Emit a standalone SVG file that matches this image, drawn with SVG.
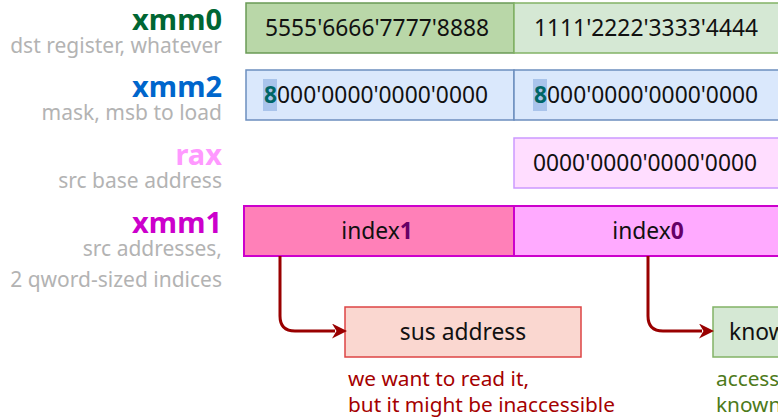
<svg xmlns="http://www.w3.org/2000/svg" width="778" height="419" viewBox="0 0 778 419">
<style>
.lbl{font-family:"Noto Sans","Open Sans",sans-serif;font-weight:bold;font-size:29px;text-anchor:end}
.sub{font-family:"Noto Sans","Open Sans",sans-serif;font-size:21px;fill:#b3b3b3;text-anchor:end}
.val{font-family:"Noto Sans","Open Sans",sans-serif;font-size:22.8px;fill:#111}
.mid{text-anchor:middle}
.note{font-family:"Noto Sans","Open Sans",sans-serif;font-size:20.8px}
.hl{fill:#a9c4eb}
.b8{font-weight:bold;fill:#006666}
.conn{fill:none;stroke:#990000;stroke-width:3}
</style>
<defs>
<marker id="ah" viewBox="0 0 10 10" refX="2" refY="5" markerWidth="6" markerHeight="5" markerUnits="strokeWidth" orient="auto">
<path d="M0,0 L10,5 L0,10 L3,5 Z" fill="#990000"/>
</marker>
</defs>

<g id="label-xmm0">
<text class="lbl" x="222" y="30" fill="#006633">xmm0</text>
<text class="sub" x="222" y="53">dst register, whatever</text>
</g>
<g id="label-xmm2">
<text class="lbl" x="222" y="97" fill="#0066cc">xmm2</text>
<text class="sub" x="222" y="120">mask, msb to load</text>
</g>
<g id="label-rax">
<text class="lbl" x="222" y="165" fill="#ff99ff">rax</text>
<text class="sub" x="222" y="188">src base address</text>
</g>
<g id="label-xmm1">
<text class="lbl" x="222" y="233" fill="#cc00cc">xmm1</text>
<text class="sub" x="222" y="256">src addresses,</text>
<text class="sub" x="222" y="287">2 qword-sized indices</text>
</g>

<g id="xmm0-hi">
<rect x="246" y="3" width="268" height="50" fill="#b9d7a8" stroke="#6a9a55" stroke-width="1.5"/>
<text class="val" x="265" y="36">5555'6666'7777'8888</text>
</g>
<g id="xmm0-lo">
<rect x="514" y="3" width="280" height="50" fill="#d5e8d4" stroke="#82b366" stroke-width="1.5"/>
<text class="val" x="534" y="36">1111'2222'3333'4444</text>
</g>

<g id="xmm2-hi">
<rect x="246" y="70" width="268" height="50" fill="#dae8fc" stroke="#6c8ebf" stroke-width="1.5"/>
<rect class="hl" x="263" y="79" width="14" height="32"/>
<text class="val" x="264" y="103"><tspan class="b8">8</tspan>000'0000'0000'0000</text>
</g>
<g id="xmm2-lo">
<rect x="514" y="70" width="280" height="50" fill="#dae8fc" stroke="#6c8ebf" stroke-width="1.5"/>
<rect class="hl" x="533" y="79" width="14" height="32"/>
<text class="val" x="534" y="103"><tspan class="b8">8</tspan>000'0000'0000'0000</text>
</g>

<g id="rax-box">
<rect x="514" y="138" width="280" height="50" fill="#ffddff" stroke="#cc99ff" stroke-width="1.5"/>
<text class="val" x="533" y="171">0000'0000'0000'0000</text>
</g>

<g id="xmm1-hi">
<rect x="244" y="206" width="270" height="50" fill="#ff80b8" stroke="#cc00cc" stroke-width="2"/>
<text class="val mid" x="377" y="239">index<tspan font-weight="bold" fill="#660066">1</tspan></text>
</g>
<g id="xmm1-lo">
<rect x="514" y="206" width="280" height="50" fill="#ffaaff" stroke="#cc00cc" stroke-width="2"/>
<text class="val mid" x="648" y="239">index<tspan font-weight="bold" fill="#660066">0</tspan></text>
</g>

<g id="sus">
<rect x="345" y="307" width="236" height="50" fill="#fad7d0" stroke="#dd4444" stroke-width="1.5"/>
<text class="val mid" x="463" y="340">sus address</text>
<text class="note" x="348" y="386" fill="#a50000">we want to read it,</text>
<text class="note" x="348" y="412" fill="#a50000">but it might be inaccessible</text>
</g>
<g id="known">
<rect x="713" y="307" width="200" height="50" fill="#d5e8d4" stroke="#82b366" stroke-width="1.5"/>
<text class="val" x="729" y="340">known address</text>
<text class="note" x="716" y="386" fill="#4d7a1a">accessible,</text>
<text class="note" x="716" y="412" fill="#4d7a1a">known value</text>
</g>

<g id="connectors">
<path class="conn" d="M280,256 V316 Q280,331 295,331 H335" marker-end="url(#ah)"/>
<path class="conn" d="M648,256 V316 Q648,331 663,331 H702" marker-end="url(#ah)"/>
</g>
</svg>
